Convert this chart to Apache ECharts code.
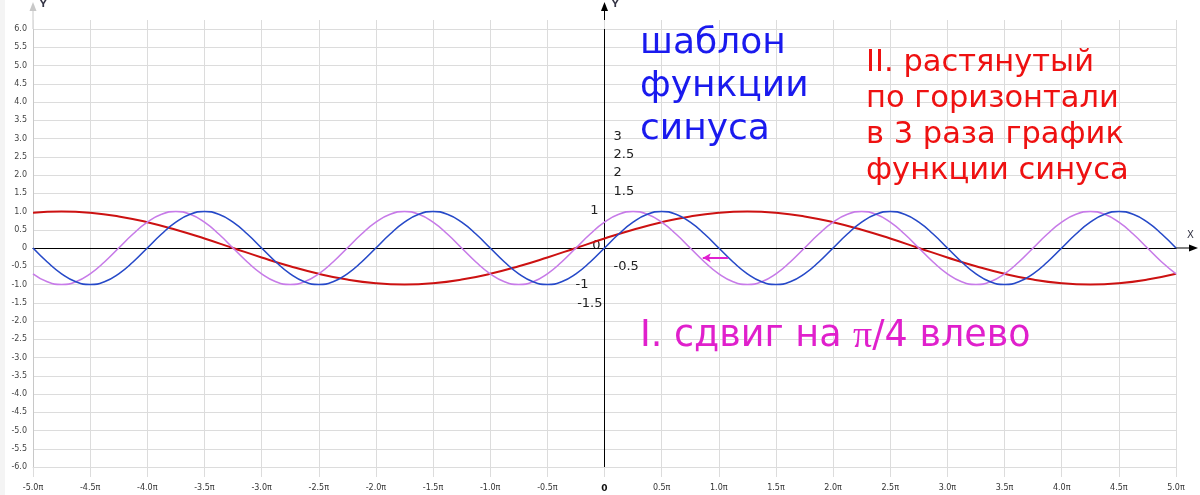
<!DOCTYPE html>
<html><head><meta charset="utf-8">
<script src="https://cdn.jsdelivr.net/npm/echarts@6/dist/echarts.min.js"></script>
<style>html,body{margin:0;padding:0;background:#fff}#c{width:1200px;height:495px}</style>
</head><body><div id="c"></div>
<script>
// x in units of π
const xFine = [-5,-4.875,-4.75,-4.625,-4.5,-4.375,-4.25,-4.125,-4,-3.875,-3.75,-3.625,-3.5,-3.375,-3.25,-3.125,
-3,-2.875,-2.75,-2.625,-2.5,-2.375,-2.25,-2.125,-2,-1.875,-1.75,-1.625,-1.5,-1.375,-1.25,-1.125,
-1,-0.875,-0.75,-0.625,-0.5,-0.375,-0.25,-0.125,0,0.125,0.25,0.375,0.5,0.625,0.75,0.875,
1,1.125,1.25,1.375,1.5,1.625,1.75,1.875,2,2.125,2.25,2.375,2.5,2.625,2.75,2.875,
3,3.125,3.25,3.375,3.5,3.625,3.75,3.875,4,4.125,4.25,4.375,4.5,4.625,4.75,4.875,5];
const blueSine = [0,-0.383,-0.707,-0.924,-1,-0.924,-0.707,-0.383,0,0.383,0.707,0.924,1,0.924,0.707,0.383,
0,-0.383,-0.707,-0.924,-1,-0.924,-0.707,-0.383,0,0.383,0.707,0.924,1,0.924,0.707,0.383,
0,-0.383,-0.707,-0.924,-1,-0.924,-0.707,-0.383,0,0.383,0.707,0.924,1,0.924,0.707,0.383,
0,-0.383,-0.707,-0.924,-1,-0.924,-0.707,-0.383,0,0.383,0.707,0.924,1,0.924,0.707,0.383,
0,-0.383,-0.707,-0.924,-1,-0.924,-0.707,-0.383,0,0.383,0.707,0.924,1,0.924,0.707,0.383,0];
const violetShifted = [-0.707,-0.924,-1,-0.924,-0.707,-0.383,0,0.383,0.707,0.924,1,0.924,0.707,0.383,0,-0.383,
-0.707,-0.924,-1,-0.924,-0.707,-0.383,0,0.383,0.707,0.924,1,0.924,0.707,0.383,0,-0.383,
-0.707,-0.924,-1,-0.924,-0.707,-0.383,0,0.383,0.707,0.924,1,0.924,0.707,0.383,0,-0.383,
-0.707,-0.924,-1,-0.924,-0.707,-0.383,0,0.383,0.707,0.924,1,0.924,0.707,0.383,0,-0.383,
-0.707,-0.924,-1,-0.924,-0.707,-0.383,0,0.383,0.707,0.924,1,0.924,0.707,0.383,0,-0.383,-0.707];
const xCoarse = [-5,-4.75,-4.5,-4.25,-4,-3.75,-3.5,-3.25,-3,-2.75,-2.5,-2.25,-2,-1.75,-1.5,-1.25,-1,-0.75,-0.5,-0.25,
0,0.25,0.5,0.75,1,1.25,1.5,1.75,2,2.25,2.5,2.75,3,3.25,3.5,3.75,4,4.25,4.5,4.75,5];
const redStretched = [0.966,1,0.966,0.866,0.707,0.5,0.259,0,-0.259,-0.5,-0.707,-0.866,-0.966,-1,-0.966,-0.866,-0.707,-0.5,-0.259,0,
0.259,0.5,0.707,0.866,0.966,1,0.966,0.866,0.707,0.5,0.259,0,-0.259,-0.5,-0.707,-0.866,-0.966,-1,-0.966,-0.866,-0.707];
const midLabelsLeft = [1, 0, -1, -1.5];
const midLabelsRight = [3, 2.5, 2, 1.5, -0.5];
const shiftArrow = [[1.08, -0.27], [0.86, -0.27]];
const textTemplate = ['шаблон', 'функции', 'синуса'];
const textStretch = ['II. растянутый', 'по горизонтали', 'в 3 раза график', 'функции синуса'];

const FONT = 'DejaVu Sans, Verdana, sans-serif';
const chart = echarts.init(document.getElementById('c'), null, {renderer: 'canvas'});
const xFmt = v => v === 0 ? '{b|0}' : v.toFixed(1) + 'π';
const yFmt = v => v === 0 ? '0' : v.toFixed(1);
const gridCol = '#dcdcdc';
chart.setOption({
  animation: false,
  backgroundColor: '#fff',
  grid: {left: 33, right: 24, top: 29, bottom: 28, containLabel: false},
  xAxis: [
    {type: 'value', min: -5, max: 5, interval: 0.5, position: 'bottom',
      axisLine: {onZero: false, lineStyle: {color: gridCol}},
      axisTick: {show: true, length: 10, lineStyle: {color: gridCol}},
      axisLabel: {margin: 17, fontSize: 8, color: '#333', fontFamily: FONT, formatter: xFmt,
        rich: {b: {fontWeight: 'bold', fontSize: 9, color: '#111', fontFamily: FONT}}},
      splitLine: {show: true, lineStyle: {color: gridCol}}},
    {type: 'value', min: -5, max: 5, interval: 0.5, position: 'bottom',
      axisLine: {show: true, onZero: true, lineStyle: {color: '#000', width: 1}},
      axisTick: {show: false}, axisLabel: {show: false}, splitLine: {show: false}},
    {type: 'value', min: -5, max: 5, interval: 0.5, position: 'top',
      axisLine: {show: false, onZero: false},
      axisTick: {show: true, length: 9, lineStyle: {color: gridCol}}, axisLabel: {show: false}, splitLine: {show: false}}
  ],
  yAxis: [
    {type: 'value', min: -6, max: 6, interval: 0.5, position: 'left',
      axisLine: {show: true, onZero: false, lineStyle: {color: '#c8c8c8'}},
      axisTick: {show: false},
      axisLabel: {fontSize: 8, color: '#444', margin: 6, fontFamily: FONT, formatter: yFmt},
      splitLine: {show: true, lineStyle: {color: gridCol}}},
    {type: 'value', min: -6, max: 6, interval: 0.5, position: 'left',
      axisLine: {show: true, onZero: true, lineStyle: {color: '#000', width: 1}},
      axisTick: {show: false}, axisLabel: {show: false}, splitLine: {show: false}}
  ],
  series: [
    {type: 'line', name: 'red', xAxisIndex: 0, yAxisIndex: 0, smooth: true, symbol: 'none',
      lineStyle: {color: '#cc1111', width: 2}, data: xCoarse.map((x, i) => [x, redStretched[i]])},
    {type: 'line', name: 'violet', xAxisIndex: 0, yAxisIndex: 0, smooth: true, symbol: 'none',
      lineStyle: {color: '#c77be8', width: 1.6}, data: xFine.map((x, i) => [x, violetShifted[i]]),
      markLine: {silent: true, symbol: ['none', 'arrow'], symbolSize: [7, 8], label: {show: false},
        lineStyle: {color: '#e020d0', width: 2, type: 'solid'},
        data: [[{coord: shiftArrow[0]}, {coord: shiftArrow[1]}]]}},
    {type: 'line', name: 'blue', xAxisIndex: 0, yAxisIndex: 0, smooth: true, symbol: 'none',
      lineStyle: {color: '#2649c8', width: 1.6}, data: xFine.map((x, i) => [x, blueSine[i]])}
  ]
});

function px(p) { return chart.convertToPixel({gridIndex: 0}, p); }
const tl = px([-5, 6]), br = px([5, -6]), o = px([0, 0]);
const xl = tl[0], yt = tl[1], xr = br[0], yb = br[1], x0 = o[0], y0 = o[1];
const gray = '#c8c8c8';
// layout nudges for the hand-placed labels on the central axis
const leftNudge = {'1': [-6, -1], '0': [-4, -2], '-1': [-16, 0], '-1.5': [-2, 1]};
const midLabelFont = '13px ' + FONT;
const midTexts = [];
midLabelsLeft.forEach(v => {
  const p = px([0, v]); const n = leftNudge[String(v)];
  midTexts.push({type: 'text', x: p[0] + n[0], y: p[1] + n[1],
    style: {text: String(v), font: midLabelFont, fill: '#222', align: 'right', verticalAlign: 'middle'}});
});
midLabelsRight.forEach(v => {
  const p = px([0, v]);
  midTexts.push({type: 'text', x: p[0] + 9, y: p[1] + (v > 0 ? -2 : 0),
    style: {text: String(v), font: midLabelFont, fill: '#222', align: 'left', verticalAlign: 'middle'}});
});
chart.setOption({graphic: [
  {type: 'rect', shape: {x: 0, y: 0, width: 5, height: 495}, style: {fill: '#f4f4f4'}, z: -1},
  {type: 'line', shape: {x1: xl, y1: yt, x2: xl, y2: 10}, style: {stroke: gray, lineWidth: 1}},
  {type: 'polygon', shape: {points: [[xl, 2], [xl - 3.5, 11], [xl + 3.5, 11]]}, style: {fill: gray}},
  {type: 'text', x: 40, y: 0, style: {text: 'Y', font: 'bold 9px ' + FONT, fill: '#334'}},
  {type: 'line', shape: {x1: x0, y1: yt, x2: x0, y2: 10}, style: {stroke: '#000', lineWidth: 1}},
  {type: 'line', shape: {x1: x0, y1: yb, x2: x0, y2: yb + 10}, style: {stroke: '#000', lineWidth: 1}},
  {type: 'polygon', shape: {points: [[x0, 2], [x0 - 3.5, 11], [x0 + 3.5, 11]]}, style: {fill: '#000'}},
  {type: 'text', x: 612, y: 0, style: {text: 'Y', font: 'bold 9px ' + FONT, fill: '#334'}},
  {type: 'line', shape: {x1: xr, y1: y0, x2: 1191, y2: y0}, style: {stroke: '#000', lineWidth: 1}},
  {type: 'polygon', shape: {points: [[1198, y0], [1189, y0 - 3.5], [1189, y0 + 3.5]]}, style: {fill: '#000'}},
  {type: 'text', x: 1187, y: 230, style: {text: 'X', font: '10px ' + FONT, fill: '#334'}},
  {type: 'text', x: 640, y: 22, style: {text: textTemplate.join('\n'), font: '36px ' + FONT, fill: '#1a1aee', lineHeight: 43, verticalAlign: 'top'}},
  {type: 'text', x: 866, y: 45, style: {text: textStretch.join('\n'), font: '30.5px ' + FONT, fill: '#ee1111', lineHeight: 36, verticalAlign: 'top'}},
  {type: 'text', x: 640, y: 316, style: {
    text: '{a|I. сдвиг на }{p|π}{a|/4 влево}', lineHeight: 42, verticalAlign: 'top',
    rich: {a: {fontSize: 36.5, fontFamily: FONT, fill: '#e020cc', color: '#e020cc'},
           p: {fontSize: 38, fontFamily: 'Liberation Serif, serif', fill: '#e020cc', color: '#e020cc'}}}}
].concat(midTexts)});
</script>
</body></html>
